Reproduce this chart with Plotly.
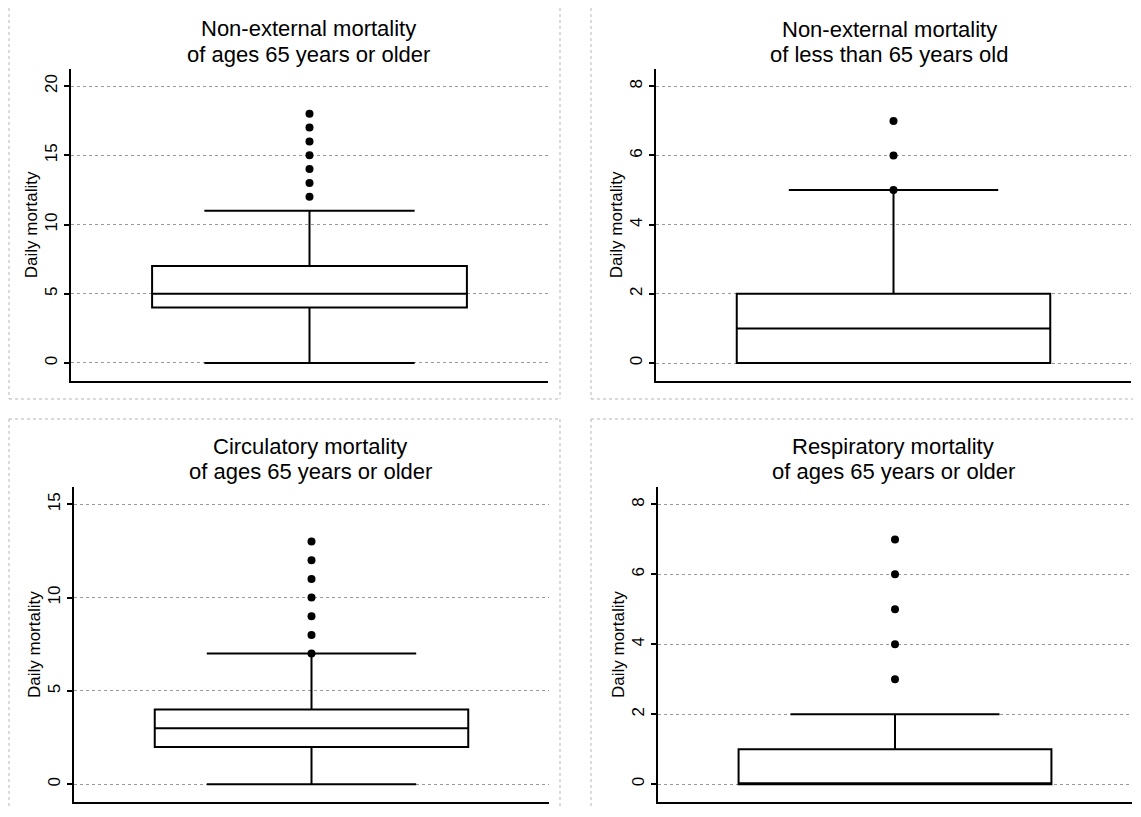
import plotly.graph_objects as go

# ---- data ----
panel_titles = [
    ("Non-external mortality", "of ages 65 years or older"),
    ("Non-external mortality", "of less than 65 years old"),
    ("Circulatory mortality", "of ages 65 years or older"),
    ("Respiratory mortality", "of ages 65 years or older"),
]
lower_fence = [0, 0, 0, 0]
q1_vals = [4, 0, 2, 0]
median_vals = [5, 1, 3, 0]
q3_vals = [7, 2, 4, 1]
upper_fence = [11, 5, 7, 2]
outliers = [
    [12, 13, 14, 15, 16, 17, 18],
    [5, 6, 7],
    [7, 8, 9, 10, 11, 12, 13],
    [3, 4, 5, 6, 7],
]
y_ticks = [
    [0, 5, 10, 15, 20],
    [0, 2, 4, 6, 8],
    [0, 5, 10, 15],
    [0, 2, 4, 6, 8],
]
y_title = "Daily mortality"

# ---- geometry, in pixels of the 1141x817 page ----
OFF = 8                      # default body margin of the html page
Wf, Hf = 1141 - OFF, 817 - 2 * OFF
x_dom_px = [(71, 548), (656, 1131), (74, 549), (658, 1132)]
y_dom_px = [(69, 380.7), (69, 380.7), (487.3, 802), (487.3, 802)]
y_ranges = [(-1.28, 21.23), (-0.51, 8.5), (-0.95, 15.91), (-0.51, 8.49)]
title_x_px = [308, 889, 310, 893]
title_y_px = [(28.5, 54.0), (29.3, 54.5), (446, 471.5), (446, 471.5)]


def fx(p):
    return (p - OFF) / Wf


def fy(p):
    return 1 - (p - OFF) / Hf


FONT = "Liberation Sans, Arial, Helvetica, sans-serif"

fig = go.Figure()
layout = dict(
    width=Wf, height=Hf, autosize=False,
    margin=dict(l=0, r=0, t=0, b=0),
    paper_bgcolor="white", plot_bgcolor="white",
    showlegend=False,
    font=dict(family=FONT, color="black"),
)

annotations = []
for i in range(4):
    n = "" if i == 0 else str(i + 1)
    xa, ya = "x" + n, "y" + n
    fig.add_trace(go.Box(
        x=[0], q1=[q1_vals[i]], median=[median_vals[i]], q3=[q3_vals[i]],
        lowerfence=[lower_fence[i]], upperfence=[upper_fence[i]],
        width=0.66, whiskerwidth=0.668, boxpoints=False,
        fillcolor="rgba(255,255,255,0)",
        line=dict(color="black", width=2),
        xaxis=xa, yaxis=ya, hoverinfo="skip",
    ))
    fig.add_trace(go.Scatter(
        x=[0] * len(outliers[i]), y=outliers[i], mode="markers",
        marker=dict(color="black", size=8),
        xaxis=xa, yaxis=ya, hoverinfo="skip",
    ))
    x0, x1 = x_dom_px[i]
    y0, y1 = y_dom_px[i]
    layout["xaxis" + n] = dict(
        domain=[fx(x0), fx(x1)], range=[-0.5, 0.5], anchor=ya,
        showline=True, linecolor="black", linewidth=2,
        showticklabels=False, ticks="", showgrid=False, zeroline=False,
        automargin=False, fixedrange=True,
    )
    layout["yaxis" + n] = dict(
        domain=[fy(y1), fy(y0)], range=list(y_ranges[i]), anchor=xa,
        showline=True, linecolor="black", linewidth=2,
        tickmode="array", tickvals=y_ticks[i], ticktext=[str(t) for t in y_ticks[i]],
        ticks="outside", ticklen=5, tickwidth=1.5, tickcolor="black",
        tickangle=-90, tickfont=dict(size=17, family=FONT, color="black"),
        showgrid=True, gridcolor="#9a9a9a", gridwidth=1, griddash="dot",
        zeroline=False, automargin=False, fixedrange=True,
        title=dict(text=y_title, font=dict(size=17, family=FONT, color="black"), standoff=0),
    )
    for line_txt, ypx in zip(panel_titles[i], title_y_px[i]):
        annotations.append(dict(
            text=line_txt, xref="paper", yref="paper",
            x=fx(title_x_px[i]), y=fy(ypx),
            xanchor="center", yanchor="middle", showarrow=False,
            font=dict(size=22, family=FONT, color="black"),
        ))


# panel frames (dotted light gray)
def seg(xa, ya, xb, yb):
    return dict(type="line", xref="paper", yref="paper",
                x0=max(fx(xa), 0), y0=min(fy(ya), 1), x1=max(fx(xb), 0), y1=min(fy(yb), 1),
                line=dict(color="#b5b5b5", width=1, dash="dot"))


shapes = [
    seg(9, 0, 9, 399), seg(560, 0, 560, 399), seg(9, 399, 560, 399),
    seg(591, 0, 591, 399), seg(591, 399, 1141, 399),
    seg(9, 419, 560, 419), seg(9, 419, 9, 817), seg(560, 419, 560, 817),
    seg(591, 419, 1141, 419), seg(591, 419, 591, 817),
]

layout["annotations"] = annotations
layout["shapes"] = shapes
fig.update_layout(**layout)
fig.write_html("out.html")
